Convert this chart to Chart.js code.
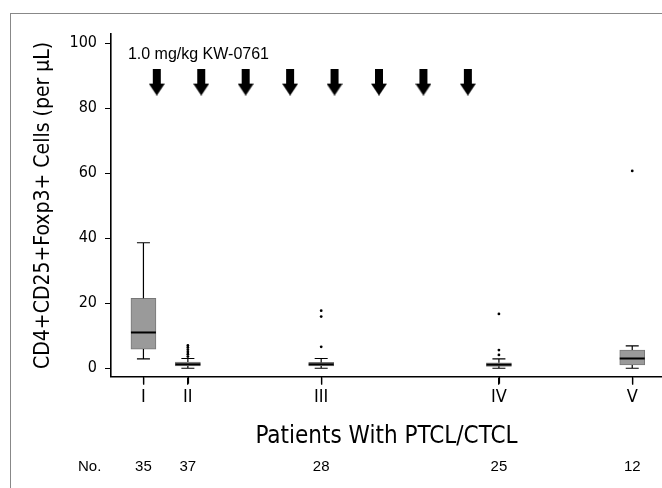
<!DOCTYPE html>
<html lang="en">
<head>
<meta charset="UTF-8">
<title>CD4+CD25+Foxp3+ Cells</title>
<script src="https://cdn.jsdelivr.net/npm/chart.js"></script>
<style>
  html, body { margin: 0; background: #fff; overflow: hidden; }
  #wrap { width: 662px; height: 488px; position: relative; }
  canvas { display: block; }
</style>
</head>
<body>
<div id="wrap"><canvas id="boxChart"></canvas></div>
<script>
// groups along the x axis (weekly scale), I..V
const groupLabels = ['I', 'II', 'III', 'IV', 'V'];
const groupPos = [0, 1, 4, 8, 11];
const patientCounts = [35, 37, 28, 25, 12];

// box plot stats per group
const whiskerLow = [2.9, 0, 0, 0, 0];
const q1 = [5.9, 0.7, 0.7, 0.6, 1.0];
const median = [11.0, 1.2, 1.2, 1.1, 3.0];
const q3 = [21.5, 1.9, 1.8, 1.7, 5.6];
const whiskerHigh = [38.6, 3.0, 3.0, 2.9, 6.9];

// outliers
const outlierX = [1, 1, 1, 1, 1, 1, 4, 4, 4, 8, 8, 8, 11];
const outlierY = [3.6, 4.3, 5.0, 5.7, 6.4, 7.0, 17.7, 15.9, 6.6, 16.7, 5.6, 4.1, 60.7];

// dosing arrows (1.0 mg/kg KW-0761)
const doseX = [0.3, 1.3, 2.3, 3.3, 4.3, 5.3, 6.3, 7.3];
const doseY = 88;

const yTicks = [0, 20, 40, 60, 80, 100];

const narrow = '"Liberation Sans Narrow", "DejaVu Sans Condensed", "Liberation Sans", sans-serif';
const plain = '"Liberation Sans", Arial, sans-serif';

// arrow glyph used as point style
const arrow = document.createElement('canvas');
arrow.width = 16; arrow.height = 27;
(function () {
    const c = arrow.getContext('2d');
    c.fillStyle = '#000';
    c.fillRect(4, 0, 8, 16);
    c.beginPath();
    c.moveTo(0, 15);
    c.lineTo(16, 15);
    c.lineTo(8, 27);
    c.closePath();
    c.fill();
})();

// whiskers, caps, medians, x tick marks, frame and counts row
const boxExtras = {
    id: 'boxExtras',
    beforeDraw(chart) {
        const ctx = chart.ctx;
        ctx.save();
        ctx.strokeStyle = '#888';
        ctx.lineWidth = 1;
        ctx.strokeRect(10.5, 13.5, 700, 520);
        ctx.restore();
    },
    afterDatasetsDraw(chart) {
        const ctx = chart.ctx;
        const x = chart.scales.x, y = chart.scales.y;
        ctx.save();
        ctx.strokeStyle = '#000';
        groupPos.forEach((p, i) => {
            const cx = x.getPixelForValue(p);
            const cap = 6.5, half = 12.5;
            ctx.lineWidth = 1.2;
            ctx.beginPath();
            ctx.moveTo(cx, y.getPixelForValue(q3[i]));
            ctx.lineTo(cx, y.getPixelForValue(whiskerHigh[i]));
            ctx.moveTo(cx - cap, y.getPixelForValue(whiskerHigh[i]));
            ctx.lineTo(cx + cap, y.getPixelForValue(whiskerHigh[i]));
            ctx.moveTo(cx, y.getPixelForValue(q1[i]));
            ctx.lineTo(cx, y.getPixelForValue(whiskerLow[i]));
            ctx.moveTo(cx - cap, y.getPixelForValue(whiskerLow[i]));
            ctx.lineTo(cx + cap, y.getPixelForValue(whiskerLow[i]));
            // tick mark under the axis
            ctx.moveTo(Math.round(cx) + 0.5, x.top);
            ctx.lineTo(Math.round(cx) + 0.5, x.top + 7);
            ctx.stroke();
            ctx.lineWidth = 2;
            ctx.beginPath();
            ctx.moveTo(cx - half, y.getPixelForValue(median[i]));
            ctx.lineTo(cx + half, y.getPixelForValue(median[i]));
            ctx.stroke();
        });

        // patient numbers row
        ctx.fillStyle = '#000';
        ctx.font = '15px ' + plain;
        ctx.textBaseline = 'middle';
        ctx.textAlign = 'left';
        ctx.fillText('No.', 78, 467);
        ctx.textAlign = 'center';
        groupPos.forEach((p, i) => {
            ctx.fillText(String(patientCounts[i]), x.getPixelForValue(p), 467);
        });

        // dose label
        ctx.font = '16px ' + plain;
        ctx.textAlign = 'left';
        ctx.fillText('1.0 mg/kg KW-0761', x.getPixelForValue(-0.35), y.getPixelForValue(96.4));
        ctx.restore();
    }
};

new Chart(document.getElementById('boxChart'), {
    type: 'bar',
    data: {
        datasets: [
            {
                label: 'IQR',
                data: groupPos.map((p, i) => ({ x: p, y: [q1[i], q3[i]] })),
                backgroundColor: '#9a9a9a',
                borderColor: '#777',
                borderWidth: 1,
                borderSkipped: false,
                barThickness: 25
            },
            {
                type: 'scatter',
                label: 'Outliers',
                data: outlierX.map((v, i) => ({ x: v, y: outlierY[i] })),
                pointRadius: 1.4,
                backgroundColor: '#000',
                borderWidth: 0
            },
            {
                type: 'scatter',
                label: 'Dose',
                data: doseX.map(v => ({ x: v, y: doseY })),
                pointStyle: arrow,
                pointRadius: 10
            }
        ]
    },
    options: {
        responsive: true,
        maintainAspectRatio: false,
        animation: false,
        layout: { autoPadding: false, padding: { top: 34, left: 0, right: 0, bottom: 0 } },
        plugins: { legend: { display: false }, tooltip: { enabled: false } },
        scales: {
            x: {
                type: 'linear',
                min: -0.73,
                max: 11.67,
                offset: false,
                afterFit: s => { s.height = 111.3; s.paddingLeft = 0; s.paddingRight = 0; },
                afterBuildTicks: s => { s.ticks = groupPos.map(v => ({ value: v })); },
                grid: { offset: false, drawOnChartArea: false, drawTicks: true, tickLength: 8, color: '#000', lineWidth: 1.3 },
                border: { display: true, color: '#000', width: 1.6 },
                ticks: {
                    color: '#000',
                    padding: 2,
                    maxRotation: 0,
                    autoSkip: false,
                    font: { family: narrow, size: 18 },
                    callback: v => groupLabels[groupPos.indexOf(v)]
                },
                title: {
                    display: true,
                    text: 'Patients With PTCL/CTCL',
                    color: '#000',
                    font: { family: narrow, size: 24 },
                    padding: { top: 0, bottom: 37 }
                }
            },
            y: {
                min: -2.6,
                max: 102.8,
                afterFit: s => { s.width = 111; },
                afterBuildTicks: s => { s.ticks = yTicks.map(v => ({ value: v })); },
                grid: { drawOnChartArea: false, drawTicks: true, tickLength: 6, color: '#000', lineWidth: 1 },
                border: { display: true, color: '#000', width: 1.6 },
                ticks: {
                    color: '#000',
                    padding: 8,
                    font: { family: narrow, size: 16 }
                },
                title: {
                    display: true,
                    text: 'CD4+CD25+Foxp3+ Cells (per μL)',
                    color: '#000',
                    font: { family: narrow, size: 21 },
                    padding: { top: 31, bottom: 0 }
                }
            }
        }
    },
    plugins: [boxExtras]
});
</script>
</body>
</html>
